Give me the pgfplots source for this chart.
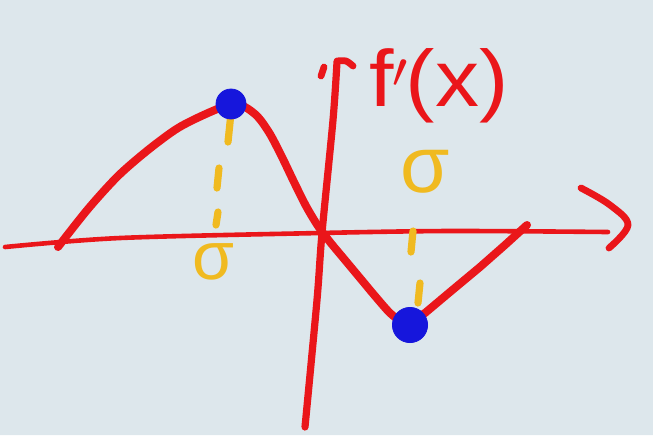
\documentclass[border=0pt]{standalone}
\usepackage{pgfplots}
\pgfplotsset{compat=1.18}
\usepackage{fontspec}
\setmainfont{Liberation Sans}
\definecolor{bgc}{RGB}{221,231,236}
\definecolor{pred}{RGB}{234,22,26}
\definecolor{pyel}{RGB}{240,186,32}
\definecolor{pblue}{RGB}{22,22,220}
\begin{document}
\begin{tikzpicture}
\begin{axis}[
  scale only axis, width=326.5pt, height=217.5pt,
  xmin=0, xmax=653, ymin=0, ymax=435, y dir=reverse,
  hide axis, clip=true,
  every axis plot/.append style={line cap=round, line join=round}
]
% background
\addplot[fill=bgc, draw=none] coordinates {(0,0)(653,0)(653,435)(0,435)(0,0)};
% horizontal axis
\addplot[pred, line width=2.3pt, smooth] coordinates {(5,247)(120,238)(320,233)(450,231)(608,232)};
\addplot[pred, line width=3.4pt, smooth, tension=0.6] coordinates {(581,188)(610,205)(628,225)(609,248)};
% vertical axis
\addplot[pred, line width=3.6pt, smooth] coordinates {(305,427)(317,300)(322,233)(333,120)(337,62)};
\addplot[pred, line width=3.4pt, smooth] coordinates {(337,61)(346,61)(353,66)};
\addplot[pred, line width=3.4pt] coordinates {(324,67)(321,76)};
% yellow dashes
\addplot[pyel, line width=3.6pt] coordinates {(231,113)(228,142)};
\addplot[pyel, line width=3.6pt] coordinates {(219,168)(217,188)};
\addplot[pyel, line width=3.6pt] coordinates {(218,212)(216,225)};
\addplot[pyel, line width=3.6pt] coordinates {(413,231)(411,252)};
\addplot[pyel, line width=3.6pt] coordinates {(420,283)(418,303)};
% curve
\addplot[pred, line width=4pt, smooth, tension=0.5] coordinates {
 (58,247)(88,209)(118,176)(148,150)(178,128)(208,113)(232,104)
 (245,107)(258,117)(270,134)(282,157)(294,182)(306,206)(318,226)(330,242)(345,260)(360,278)(375,296)(390,313)(402,322)(410,325)};
\addplot[pred, line width=4pt] coordinates {(405,325)(425,313)(450,292)(480,267)(505,245)(527,225)};
% blue dots
\addplot[only marks, mark=*, mark size=7.5pt, pblue] coordinates {(231,104)};
\addplot[only marks, mark=*, mark size=8.8pt, pblue] coordinates {(410,325)};
% labels
\node[pred, font=\fontsize{40}{40}\selectfont, anchor=base west, xscale=1.1] at (axis cs:362,106) {f{\kern-1pt}$'${\kern-1pt}(x)};
\node[pyel, font=\fontsize{34}{34}\selectfont] at (axis cs:213,262) {σ};
\node[pyel, font=\fontsize{40}{40}\selectfont] at (axis cs:425,172) {σ};
\end{axis}
\pgfresetboundingbox
\path (current axis.south west) rectangle (current axis.north east);
\end{tikzpicture}
\end{document}
